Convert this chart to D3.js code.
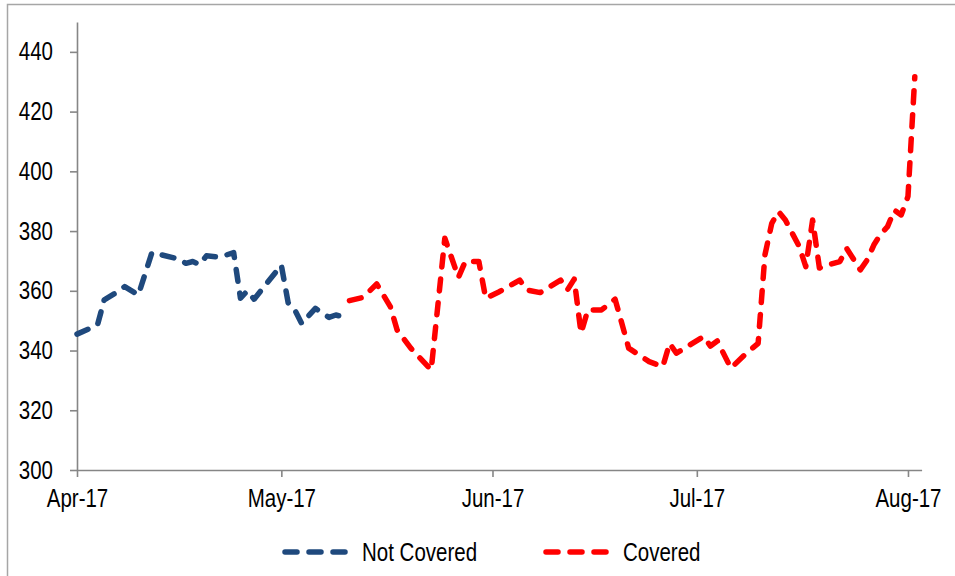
<!DOCTYPE html>
<html lang="en">
<head>
    <meta charset="utf-8" />
    <title>Covered vs Not Covered</title>
    <script src="https://cdnjs.cloudflare.com/ajax/libs/d3/7.8.5/d3.min.js"></script>
    <style>
        body { margin: 0; background: #fff; }
        text {
            font-family: "Liberation Sans", Arial, sans-serif;
            font-size: 25px;
            fill: #000;
        }
    </style>
</head>
<body>
<script>
    // Not Covered series
    const notCoveredDates = ["2017-04-01", "2017-04-04", "2017-04-05", "2017-04-07", "2017-04-08", "2017-04-10",
        "2017-04-12", "2017-04-16", "2017-04-17", "2017-04-18", "2017-04-19", "2017-04-20", "2017-04-22",
        "2017-04-24", "2017-04-25", "2017-04-26", "2017-04-27", "2017-05-01", "2017-05-02", "2017-05-03",
        "2017-05-04", "2017-05-05", "2017-05-06", "2017-05-08", "2017-05-09", "2017-05-10"];
    const notCoveredValues = [345.5, 348.5, 357, 359.7, 361.4, 358.6,
        372.8, 370.6, 369.2, 369.8, 368.8, 371.7, 371.3,
        372.8, 357.5, 360, 357.2, 368.6, 356, 353.5,
        349, 351.6, 354.1, 351.1, 351.9, 351.3];

    // Covered series
    const coveredDates = ["2017-05-11", "2017-05-13", "2017-05-15", "2017-05-17", "2017-05-18", "2017-05-20",
        "2017-05-23", "2017-05-25", "2017-05-27", "2017-05-28", "2017-05-30", "2017-05-31", "2017-06-02",
        "2017-06-05", "2017-06-06", "2017-06-08", "2017-06-11", "2017-06-12", "2017-06-13", "2017-06-14",
        "2017-06-15", "2017-06-17", "2017-06-19", "2017-06-21", "2017-06-24", "2017-06-26", "2017-06-27",
        "2017-06-28", "2017-07-02", "2017-07-03", "2017-07-04", "2017-07-06", "2017-07-08", "2017-07-10",
        "2017-07-11", "2017-07-12", "2017-07-13", "2017-07-14", "2017-07-15", "2017-07-16", "2017-07-17",
        "2017-07-18", "2017-07-19", "2017-07-20", "2017-07-22", "2017-07-23", "2017-07-25", "2017-07-26",
        "2017-07-27", "2017-07-28", "2017-07-29", "2017-07-30", "2017-07-31", "2017-08-01", "2017-08-02"];
    const coveredValues = [356.7, 357.8, 362.3, 354.7, 346.9, 340.8,
        333.5, 377.6, 364.5, 369.8, 369.8, 357.5, 359.7,
        363.6, 360.3, 359.4, 363.6, 360.3, 363.9, 345.8,
        353.6, 353.6, 357.2, 340.8, 336.3, 334.6, 342.4,
        339.1, 344.7, 341.5, 343.2, 334.1, 338.5, 342.4,
        372, 382.6, 386.5, 383.7, 379.3, 375, 368.1,
        383.7, 367.6, 368.5, 369.8, 374.2, 367, 370.3,
        375.4, 379, 381.5, 387, 385.4, 391.6, 431.7];

    const yTicks = [300, 320, 340, 360, 380, 400, 420, 440];
    const monthTicks = ["2017-04-01", "2017-05-01", "2017-06-01", "2017-07-01", "2017-08-01"];

    const seriesNames = ["Not Covered", "Covered"];
    const seriesColors = ["#1f497d", "#ff0000"];

    const width = 955, height = 576;
    const narrow = 0.82; // Arial Narrow look: squeeze Liberation Sans horizontally
    const parse = d3.timeParse("%Y-%m-%d");

    const svg = d3.select("body").append("svg")
        .attr("width", width)
        .attr("height", height);

    // outer chart frame
    svg.append("rect")
        .attr("x", 7.5).attr("y", 4.5)
        .attr("width", 960).attr("height", 600)
        .attr("fill", "none")
        .attr("stroke", "#a6a6a6")
        .attr("stroke-width", 1.5);

    const x = d3.scaleTime()
        .domain([parse("2017-04-01"), parse("2017-08-03")])
        .range([77, 921.6]);
    const y = d3.scaleLinear()
        .domain([300, 450])
        .range([470, 22]);

    const xaxis = d3.axisBottom(x)
        .tickValues(monthTicks.map(parse))
        .tickFormat(d3.timeFormat("%b-%y"))
        .tickSize(7)
        .tickSizeOuter(0)
        .tickPadding(12);
    const yaxis = d3.axisLeft(y)
        .tickValues(yTicks)
        .tickSize(7)
        .tickSizeOuter(0)
        .tickPadding(17);

    const g_x = svg.append("g").attr("transform", "translate(0,470)").call(xaxis);
    const g_y = svg.append("g").attr("transform", "translate(77,0)").call(yaxis);

    svg.selectAll(".domain, .tick line")
        .attr("stroke", "#868686")
        .attr("stroke-width", 1.6);
    svg.selectAll(".tick text")
        .attr("font-family", null)
        .attr("font-size", null)
        .attr("transform", `scale(${narrow},1)`);
    g_x.selectAll(".tick text").attr("dy", "0.71em");
    g_y.selectAll(".tick text").attr("x", -24 / narrow);

    const line = d3.line()
        .x(d => x(d[0]))
        .y(d => y(d[1]));

    const series = [
        d3.zip(notCoveredDates.map(parse), notCoveredValues),
        d3.zip(coveredDates.map(parse), coveredValues)
    ];

    svg.selectAll(".series")
        .data(series)
        .join("path")
        .attr("class", "series")
        .attr("d", line)
        .attr("fill", "none")
        .attr("stroke", (d, i) => seriesColors[i])
        .attr("stroke-width", 5.5)
        .attr("stroke-dasharray", "12,12")
        .attr("stroke-linecap", "round")
        .attr("stroke-linejoin", "round");

    // legend
    const legendX = [285, 546];
    const legend = svg.selectAll(".legend")
        .data(seriesNames)
        .join("g")
        .attr("class", "legend")
        .attr("transform", (d, i) => `translate(${legendX[i]},552)`);

    legend.append("line")
        .attr("x1", 0).attr("x2", 60)
        .attr("y1", 0).attr("y2", 0)
        .attr("stroke", (d, i) => seriesColors[i])
        .attr("stroke-width", 5.5)
        .attr("stroke-dasharray", "12,12")
        .attr("stroke-linecap", "round");

    legend.append("text")
        .attr("x", 77 / narrow)
        .attr("y", 9)
        .attr("transform", `scale(${narrow},1)`)
        .text(d => d);
</script>
</body>
</html>
